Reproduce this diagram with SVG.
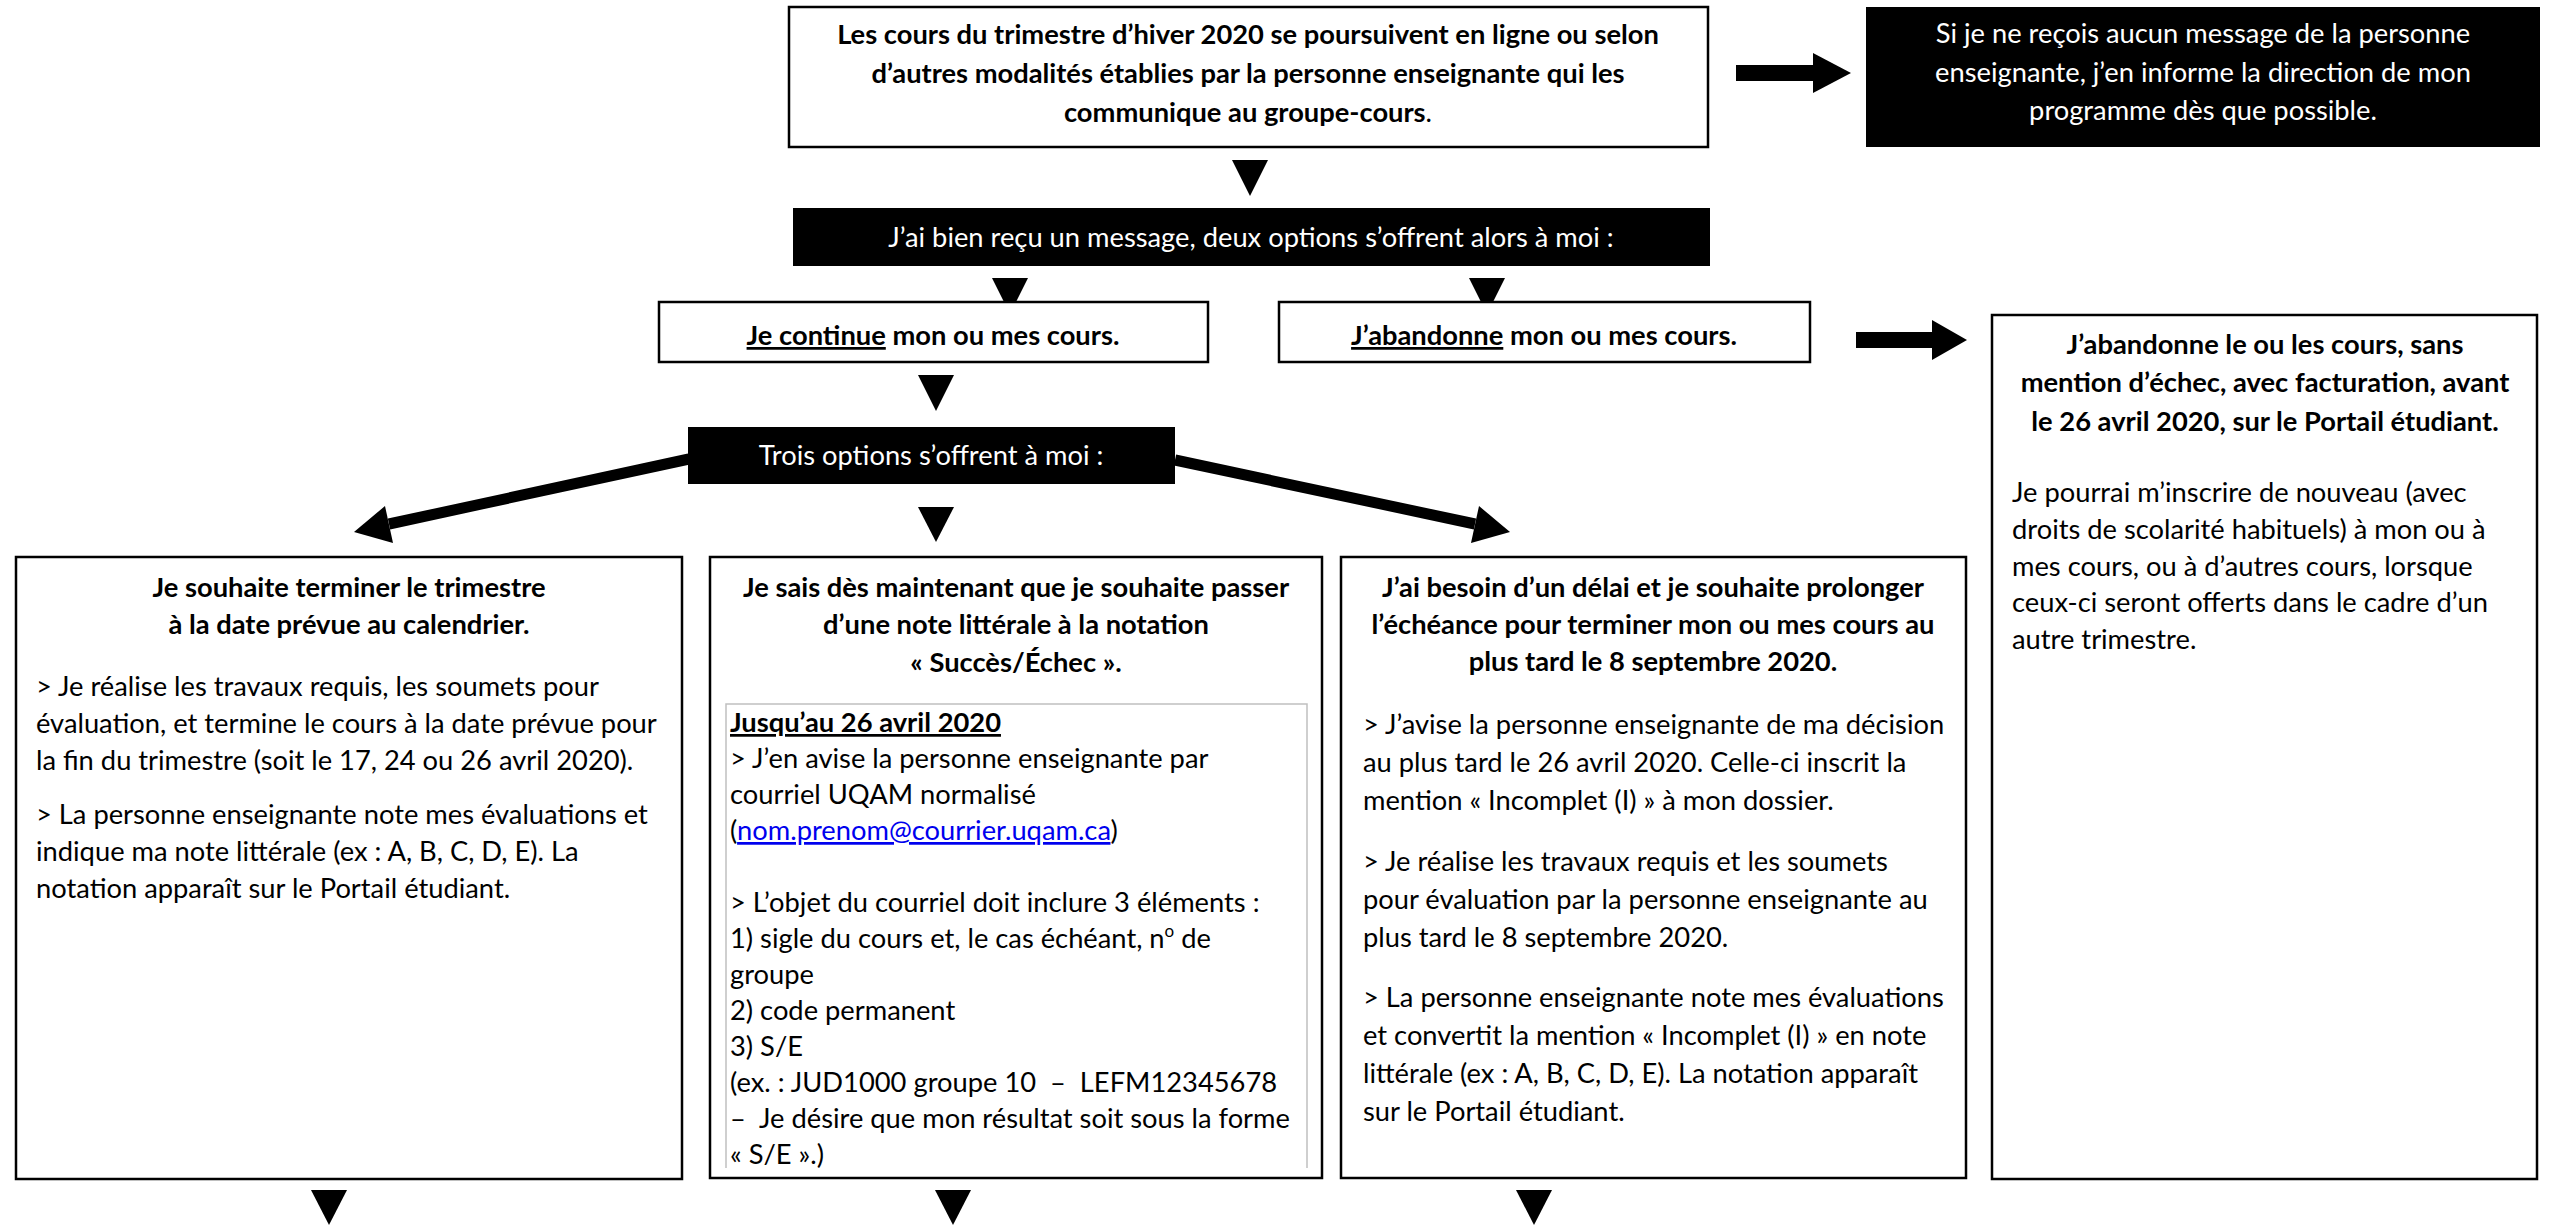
<svg xmlns="http://www.w3.org/2000/svg" width="2553" height="1225" viewBox="0 0 2553 1225">
<style>
.box{fill:#fff;stroke:#000;stroke-width:2.5}
.dark{fill:#000;stroke:none}
.inner{fill:none;stroke:#c0c0c0;stroke-width:1.5}
text{font-family:Lato,"Open Sans","Liberation Sans",sans-serif;font-size:27.3px;fill:#000}
.b{font-weight:bold}
.c{text-anchor:middle}
.w{fill:#fff}
.u{text-decoration:underline}
.lnk{fill:#0000ee;text-decoration:underline}
.arr{fill:#000}
.shaft{stroke:#000;stroke-width:11;fill:none}
</style>
<g id="connectors">
<rect class="arr" x="1736" y="65" width="78" height="16"/>
<polygon class="arr" points="1813,53 1851,73 1813,93"/>
<polygon class="arr" points="1232,160 1268,160 1250,196"/>
<polygon class="arr" points="992,278 1028,278 1010,314"/>
<polygon class="arr" points="1469,278 1505,278 1487,314"/>
<rect class="arr" x="1856" y="332" width="77" height="16"/>
<polygon class="arr" points="1932,320 1967,340 1932,360"/>
<polygon class="arr" points="918,375 954,375 936,411"/>
<line class="shaft" x1="689" y1="459" x2="389" y2="524"/>
<polygon class="arr" points="354,532 385,506 393,543"/>
<polygon class="arr" points="918,507 954,507 936,542"/>
<line class="shaft" x1="1175" y1="460" x2="1475" y2="524"/>
<polygon class="arr" points="1510,532 1479,506 1471,543"/>
<polygon class="arr" points="311,1190 347,1190 329,1225"/>
<polygon class="arr" points="935,1190 971,1190 953,1225"/>
<polygon class="arr" points="1516,1190 1552,1190 1534,1225"/>
</g>
<g id="n-top">
<rect class="box" x="789" y="7" width="919" height="140"/>
<text class="b c" x="1248" y="44">Les cours du trimestre d’hiver 2020 se poursuivent en ligne ou selon</text>
<text class="b c" x="1248" y="83">d’autres modalités établies par la personne enseignante qui les</text>
<text class="b c" x="1248" y="122">communique au groupe-cours<tspan font-weight="normal">.</tspan></text>
</g>
<g id="n-nomsg">
<rect class="dark" x="1866" y="7" width="674" height="140"/>
<text class="c w" x="2203" y="43">Si je ne reçois aucun message de la personne</text>
<text class="c w" x="2203" y="82">enseignante, j’en informe la direction de mon</text>
<text class="c w" x="2203" y="120">programme dès que possible.</text>
</g>
<g id="n-msg">
<rect class="dark" x="793" y="208" width="917" height="58"/>
<text class="c w" x="1251" y="247">J’ai bien reçu un message, deux options s’offrent alors à moi :</text>
</g>
<g id="n-continue">
<rect class="box" x="659" y="302" width="549" height="60"/>
<text class="b c" x="933" y="345"><tspan class="u">Je continue</tspan> mon ou mes cours.</text>
</g>
<g id="n-abandonne">
<rect class="box" x="1279" y="302" width="531" height="60"/>
<text class="b c" x="1544" y="345"><tspan class="u">J’abandonne</tspan> mon ou mes cours.</text>
</g>
<g id="n-trois">
<rect class="dark" x="688" y="427" width="487" height="57"/>
<text class="c w" x="931" y="465">Trois options s’offrent à moi :</text>
</g>
<g id="n-abandon-detail">
<rect class="box" x="1992" y="315" width="545" height="864"/>
<text class="b c" x="2265" y="354">J’abandonne le ou les cours, sans</text>
<text class="b c" x="2265" y="392">mention d’échec, avec facturation, avant</text>
<text class="b c" x="2265" y="431">le 26 avril 2020, sur le Portail étudiant.</text>
<text x="2012" y="502">Je pourrai m’inscrire de nouveau (avec</text>
<text x="2012" y="539">droits de scolarité habituels) à mon ou à</text>
<text x="2012" y="576">mes cours, ou à d’autres cours, lorsque</text>
<text x="2012" y="612">ceux-ci seront offerts dans le cadre d’un</text>
<text x="2012" y="649">autre trimestre.</text>
</g>
<g id="n-terminer">
<rect class="box" x="16" y="557" width="666" height="622"/>
<text class="b c" x="349" y="597">Je souhaite terminer le trimestre</text>
<text class="b c" x="349" y="634">à la date prévue au calendrier.</text>
<text x="36" y="696">&gt; Je réalise les travaux requis, les soumets pour</text>
<text x="36" y="733">évaluation, et termine le cours à la date prévue pour</text>
<text x="36" y="770">la fin du trimestre (soit le 17, 24 ou 26 avril 2020).</text>
<text x="36" y="824">&gt; La personne enseignante note mes évaluations et</text>
<text x="36" y="861">indique ma note littérale (ex : A, B, C, D, E). La</text>
<text x="36" y="898">notation apparaît sur le Portail étudiant.</text>
</g>
<g id="n-succes">
<rect class="box" x="710" y="557" width="612" height="621"/>
<text class="b c" x="1016" y="597">Je sais dès maintenant que je souhaite passer</text>
<text class="b c" x="1016" y="634">d’une note littérale à la notation</text>
<text class="b c" x="1016" y="672">« Succès/Échec ».</text>
<path class="inner" d="M726,1168 V704 H1307 V1168"/>
<text class="b" x="730" y="732"><tspan class="u">Jusqu’au 26 avril 2020</tspan></text>
<text x="730" y="768">&gt; J’en avise la personne enseignante par</text>
<text x="730" y="804">courriel UQAM normalisé</text>
<text x="730" y="840">(<tspan class="lnk">nom.prenom@courrier.uqam.ca</tspan>)</text>
<text x="730" y="912">&gt; L’objet du courriel doit inclure 3 éléments :</text>
<text x="730" y="948">1) sigle du cours et, le cas échéant, n<tspan font-size="17" dy="-11">o</tspan><tspan dy="11"> de</tspan></text>
<text x="730" y="984">groupe</text>
<text x="730" y="1020">2) code permanent</text>
<text x="730" y="1056">3) S/E</text>
<text x="730" y="1092" xml:space="preserve">(ex. : JUD1000 groupe 10  –  LEFM12345678</text>
<text x="730" y="1128" xml:space="preserve">–  Je désire que mon résultat soit sous la forme</text>
<text x="730" y="1164">« S/E ».)</text>
</g>
<g id="n-delai">
<rect class="box" x="1341" y="557" width="625" height="621"/>
<text class="b c" x="1653" y="597">J’ai besoin d’un délai et je souhaite prolonger</text>
<text class="b c" x="1653" y="634">l’échéance pour terminer mon ou mes cours au</text>
<text class="b c" x="1653" y="671">plus tard le 8 septembre 2020.</text>
<text x="1363" y="734">&gt; J’avise la personne enseignante de ma décision</text>
<text x="1363" y="772">au plus tard le 26 avril 2020. Celle-ci inscrit la</text>
<text x="1363" y="810">mention « Incomplet (I) » à mon dossier.</text>
<text x="1363" y="871">&gt; Je réalise les travaux requis et les soumets</text>
<text x="1363" y="909">pour évaluation par la personne enseignante au</text>
<text x="1363" y="947">plus tard le 8 septembre 2020.</text>
<text x="1363" y="1007">&gt; La personne enseignante note mes évaluations</text>
<text x="1363" y="1045">et convertit la mention « Incomplet (I) » en note</text>
<text x="1363" y="1083">littérale (ex : A, B, C, D, E). La notation apparaît</text>
<text x="1363" y="1121">sur le Portail étudiant.</text>
</g>
</svg>
